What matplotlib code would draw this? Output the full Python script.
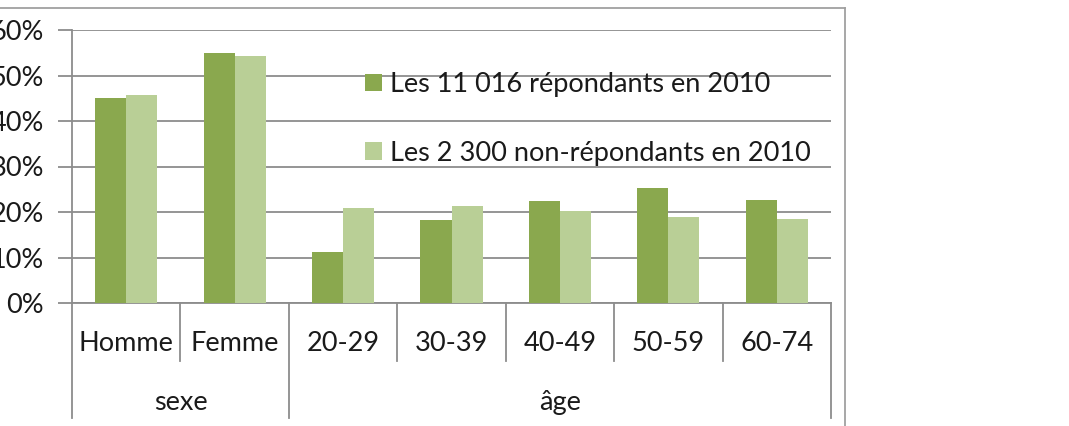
import matplotlib
matplotlib.use("Agg")
import matplotlib.pyplot as plt
from matplotlib.lines import Line2D
from matplotlib.ticker import FuncFormatter
import numpy as np

# ---- data ----
categories = ["Homme", "Femme", "20-29", "30-39", "40-49", "50-59", "60-74"]
groups = ["sexe", "âge"]
group_sizes = [2, 5]
series_names = ["Les 11 016 répondants en 2010", "Les 2 300 non-répondants en 2010"]
repondants = [0.451, 0.549, 0.113, 0.182, 0.224, 0.253, 0.226]
non_repondants = [0.458, 0.542, 0.208, 0.214, 0.202, 0.188, 0.185]
y_ticks = [0.0, 0.1, 0.2, 0.3, 0.4, 0.5, 0.6]

# ---- style ----
W, H = 1069, 426
DARK = "#8AA84E"
LIGHT = "#B9CF96"
GRID = "#8C8C8C"
TXT = "#1A1A1A"
FONT = "Lato"
FS = 19.5

plt.rcParams["font.family"] = [FONT, "DejaVu Sans"]

fig = plt.figure(figsize=(W / 100, H / 100), dpi=100)
ax_left, ax_right, ax_top, ax_bot = 72, 831, 30, 303
ax = fig.add_axes([ax_left / W, 1 - ax_bot / H, (ax_right - ax_left) / W, (ax_bot - ax_top) / H])

x = np.arange(len(categories))
bw = 0.286
b1 = ax.bar(x - bw / 2, repondants, bw, color=DARK, label=series_names[0], zorder=3)
b2 = ax.bar(x + bw / 2, non_repondants, bw, color=LIGHT, label=series_names[1], zorder=3)

ax.set_xlim(-0.5, len(categories) - 0.5)
ax.set_ylim(0, 0.6)
ax.set_yticks(y_ticks)
ax.yaxis.set_major_formatter(FuncFormatter(lambda v, p: f"{v * 100:.0f}%"))
ax.tick_params(axis="y", length=10, width=1.3, color=GRID, pad=10, labelsize=FS, labelcolor=TXT)
ax.set_xticks([])
ax.grid(axis="y", color=GRID, linewidth=1.3, zorder=0)
ax.set_axisbelow(True)
for s in ["top", "right"]:
    ax.spines[s].set_visible(False)
for s in ["left", "bottom"]:
    ax.spines[s].set_color(GRID)
    ax.spines[s].set_linewidth(1.3)

# ---- two-level category axis ----
ah = ax_bot - ax_top
def ya(px):
    return (ax_bot - px) / ah

trans = matplotlib.transforms.blended_transform_factory(ax.transData, ax.transAxes)
for i, c in enumerate(categories):
    ax.text(i, ya(351), c, transform=trans, ha="center", va="baseline", fontsize=FS, color=TXT)

boundaries = np.cumsum(group_sizes)
group_edges = [-0.5] + [b - 0.5 for b in boundaries]
for k in range(1, len(categories)):
    xb = k - 0.5
    if xb in group_edges:
        continue
    ax.add_line(Line2D([xb, xb], [0, ya(361)], transform=trans, color=GRID, lw=1.3, clip_on=False))
for xb in group_edges:
    ax.add_line(Line2D([xb, xb], [0, ya(418)], transform=trans, color=GRID, lw=1.3, clip_on=False))
for g, (a, b) in zip(groups, zip(group_edges[:-1], group_edges[1:])):
    ax.text((a + b) / 2, ya(410), g, transform=trans, ha="center", va="baseline", fontsize=FS, color=TXT)

# ---- legend ----
ax.legend(handles=[b1, b2], loc="upper left", frameon=False, fontsize=FS,
          bbox_to_anchor=(365 / W, 1 - 72 / H), bbox_transform=fig.transFigure,
          borderpad=0, borderaxespad=0, handlelength=0.63, handleheight=0.63,
          handletextpad=0.3, labelspacing=1.62, labelcolor=TXT)

# ---- outer frame ----
fx = 845 / W
fy = 1 - 8 / H
fig.add_artist(Line2D([0, fx], [fy, fy], transform=fig.transFigure, color="#A0A0A0", lw=1.3))
fig.add_artist(Line2D([fx, fx], [0, fy], transform=fig.transFigure, color="#A0A0A0", lw=1.3))

fig.savefig("out.png", dpi=100)
